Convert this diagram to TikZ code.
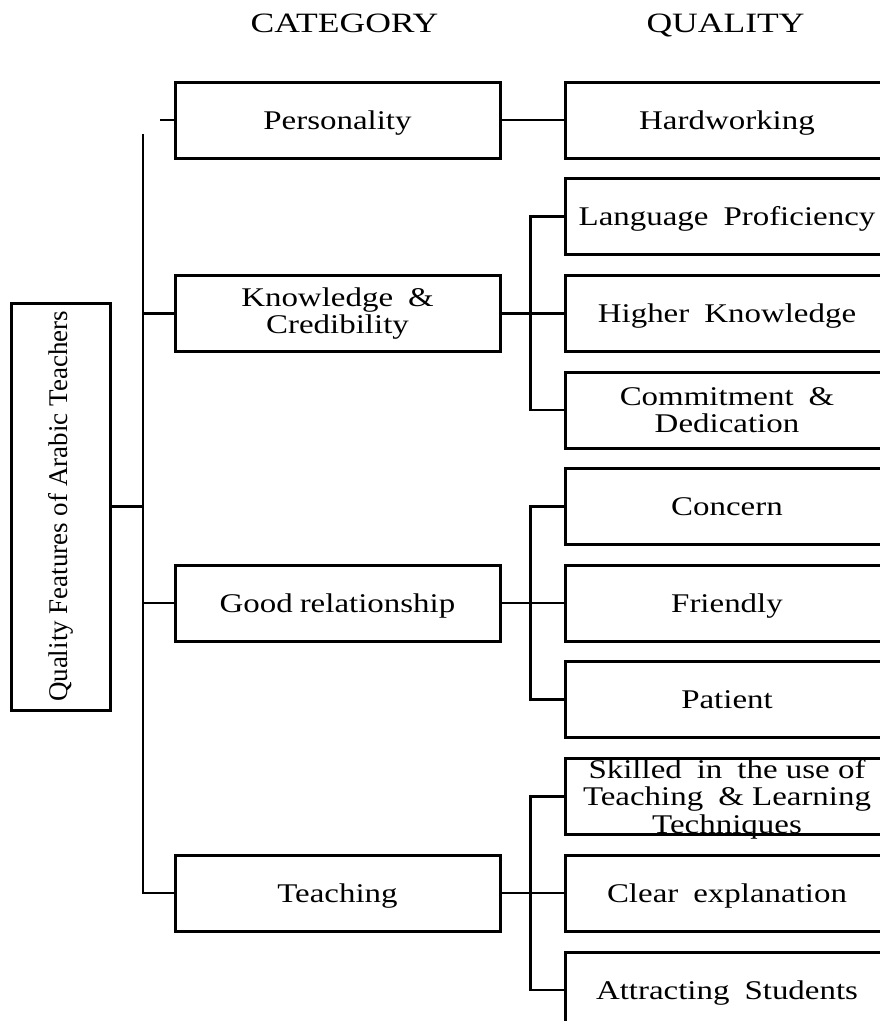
\documentclass[tikz,border=0pt]{standalone}
\usepackage{fontspec}
\setmainfont{Liberation Serif}
\newfontfamily\wf{Liberation Serif}[FakeStretch=1.22]
\newfontfamily\ttlf{Liberation Serif}[FakeStretch=1.27]
\newcommand{\xs}{\hspace{0.25em}}
\begin{document}
\begin{tikzpicture}[x=1pt,y=-1pt,
  catbox/.style={draw, line width=3pt, minimum width=325pt, minimum height=76pt, inner sep=0pt,
     font=\wf\fontsize{27}{27}\selectfont, align=center},
  qbox/.style={draw, line width=3pt, minimum width=324pt, minimum height=76pt, inner sep=0pt,
     font=\wf\fontsize{27}{27}\selectfont, align=center},
  onel/.style={text height=18pt, text depth=0pt},
  txt/.style={inner sep=0pt, font=\wf\fontsize{27}{27.5}\selectfont, align=center},
  conn/.style={line width=2.8pt},
  ttl/.style={anchor=base, inner sep=0pt, font=\ttlf\fontsize{28}{28}\selectfont}]
\useasboundingbox (0,0) rectangle (880,1021);
% titles
\node[ttl] (tcat) at (344.5,32) {CATEGORY};
\node[ttl] (tqual) at (725.5,32) {QUALITY};
% root
\node[draw, line width=3pt, minimum width=99pt, minimum height=407pt, inner sep=0pt] (root) at (60.5,506.5) {};
\node[rotate=90, inner sep=0pt, font=\fontsize{27}{27}\selectfont] (roottxt) at (root) {Quality Features of Arabic Teachers};
% categories
\node[catbox, onel] (pers) at (337.5,120) {Personality};
\node[catbox] (know) at (337.5,313.5) {Knowledge\xs{} \&\\Credibility};
\node[catbox, onel] (good) at (337.5,603) {Good\hspace{-0.05em} relationship};
\node[catbox, onel] (teach) at (337.5,893) {Teaching};
% qualities
\node[qbox, onel] (hard) at (727,120) {Hardworking};
\node[qbox, onel] (lang) at (727,216.5) {Language\xs{} Proficiency};
\node[qbox, onel] (high) at (727,313.5) {Higher\xs{} Knowledge};
\node[qbox] (comm) at (727,410) {Commitment\xs{} \&\\Dedication};
\node[qbox, onel] (conc) at (727,506.5) {Concern};
\node[qbox, onel] (frnd) at (727,603) {Friendly};
\node[qbox, onel] (pat) at (727,699.5) {Patient};
\node[qbox] (skil) at (727,796.5) {};
\node[txt] (skiltxt) at (727,799) {Skilled\xs{} in\xs{} the use of\\Teaching\xs{} \& Learning\\Techniques};
\node[qbox, onel] (clear) at (727,893) {Clear\xs{} explanation};
\node[qbox, onel] (attr) at (727,990) {Attracting\xs{} Students};
% trunk
\coordinate (ttop) at (143,134);
\draw[conn] (root.east) -- (root.east -| ttop);
\draw[conn] (ttop) |- (teach.west);
\draw[conn] (know.west) -- (know.west -| ttop);
\draw[conn] (good.west) -- (good.west -| ttop);
\draw[conn] (pers.west) -- ++(-14,0);
% branches
\draw[conn] (pers.east) -- (hard.west);
\draw[conn] (know.east) -- (high.west);
\draw[conn] (lang.west) -- ++(-33,0) |- (comm.west);
\draw[conn] (good.east) -- (frnd.west);
\draw[conn] (conc.west) -- ++(-33,0) |- (pat.west);
\draw[conn] (teach.east) -- (clear.west);
\draw[conn] (skil.west) -- ++(-33,0) |- (attr.west);
\end{tikzpicture}
\end{document}
